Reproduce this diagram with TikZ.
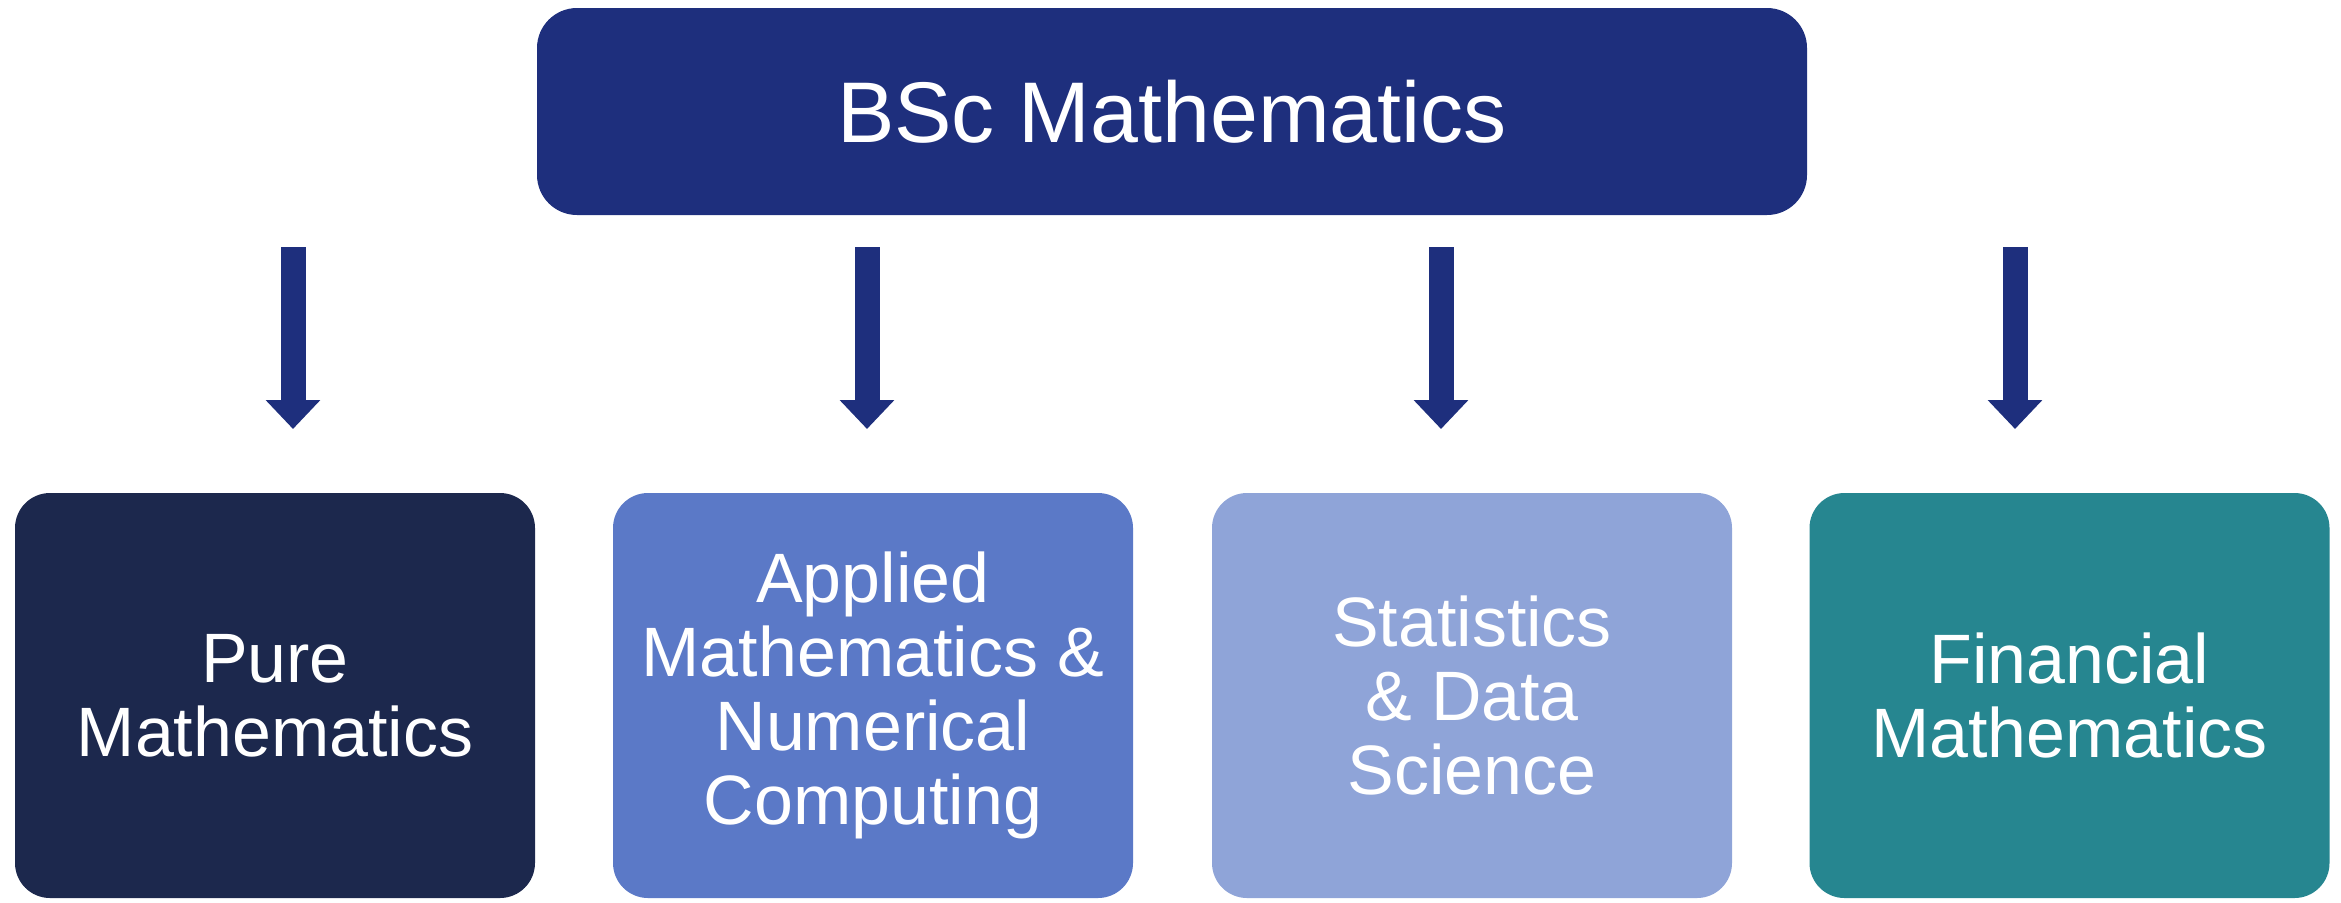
\documentclass[tikz,border=0pt]{standalone}
\usepackage{fontspec}
\setmainfont{Liberation Sans}
\usetikzlibrary{arrows.meta}
\definecolor{bscnavy}{HTML}{1E2F7D}
\definecolor{purecol}{HTML}{1C284D}
\definecolor{appliedcol}{HTML}{5B79C7}
\definecolor{statscol}{HTML}{8FA4D8}
\definecolor{financecol}{HTML}{268690}
\newcommand{\titlesize}{\fontsize{24.5pt}{29pt}\selectfont}
\newcommand{\boxsize}{\fontsize{19.9pt}{21pt}\selectfont}

\begin{document}
\begin{tikzpicture}[
  topbox/.style={fill=bscnavy,rounded corners=0.4cm,minimum width=12.7cm,minimum height=2.07cm,text=white,font=\titlesize},
  pathbox/.style={rounded corners=0.35cm,minimum width=5.2cm,minimum height=4.05cm,text=white,align=center,font=\boxsize},
  downarrow/.style={draw=bscnavy,line width=0.25cm,-{Triangle[width=0.53cm,length=0.29cm]}}]
\useasboundingbox (0,0) rectangle (23.41,9.02);
%draw the programme box
\node[topbox] (bsc) at (11.72,7.905) {BSc Mathematics};
%draw the four pathway boxes
\node[pathbox,fill=purecol] (pure) at (2.75,2.065) {Pure\\Mathematics};
\node[pathbox,fill=appliedcol] (applied) at (8.73,2.065) {Applied\\Mathematics \&\\Numerical\\Computing};
\node[pathbox,fill=statscol] (stats) at (14.72,2.065) {Statistics\\\& Data\\Science};
\node[pathbox,fill=financecol] (finance) at (20.695,2.065) {Financial\\Mathematics};
% draw arrows
\foreach \i in {0,...,3}
{
\coordinate (s\i) at (2.93+5.74*\i,6.55);
\coordinate (t\i) at (2.93+5.74*\i,4.73);
\draw[downarrow] (s\i) -- (t\i);
}
\end{tikzpicture}
\end{document}
